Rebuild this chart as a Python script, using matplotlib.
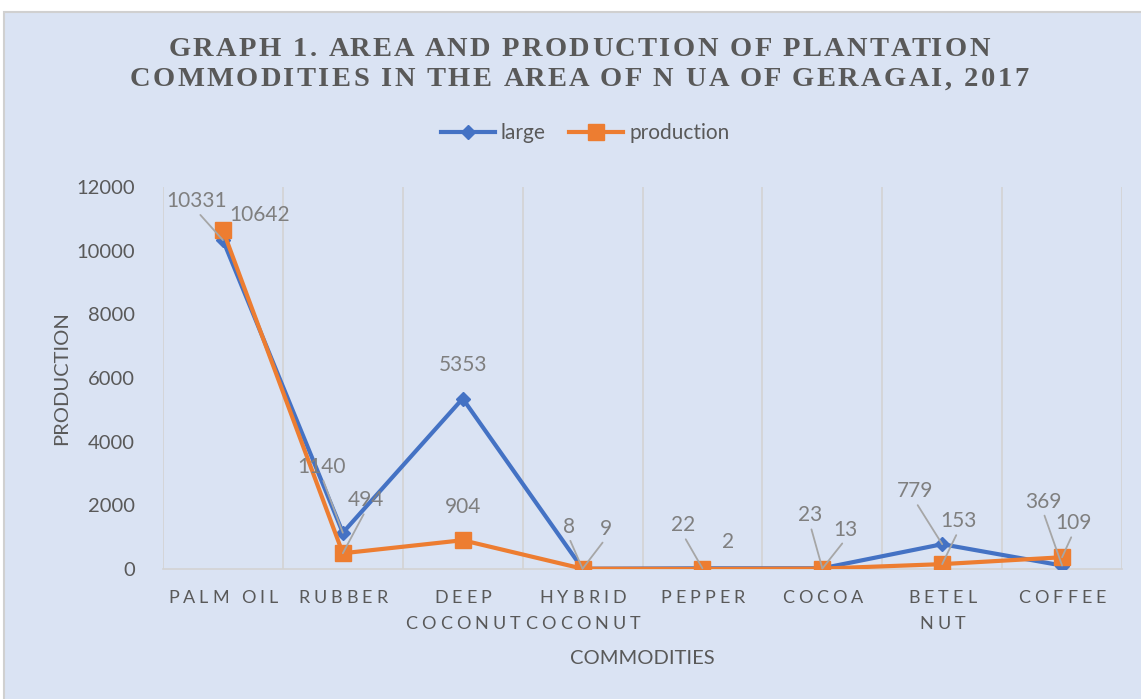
import matplotlib
matplotlib.use('Agg')
import matplotlib.pyplot as plt
from matplotlib.font_manager import FontProperties
from matplotlib.patches import Rectangle
from matplotlib.transforms import IdentityTransform

# data
commodities = ['PALM OIL', 'RUBBER', 'DEEP\nCOCONUT', 'HYBRID\nCOCONUT', 'PEPPER', 'COCOA', 'BETEL\nNUT', 'COFFEE']
large = [10331, 1140, 5353, 8, 22, 23, 779, 109]
production = [10642, 494, 904, 9, 2, 13, 153, 369]
large_labels = ['10331', '1140', '5353', '8', '22', '23', '779', '369']
production_labels = ['10642', '494', '904', '9', '2', '13', '153', '109']
yticks = [0, 2000, 4000, 6000, 8000, 10000, 12000]
title_lines = ['GRAPH 1. AREA AND PRODUCTION OF PLANTATION',
               'COMMODITIES IN THE AREA OF N UA OF GERAGAI, 2017']

# label placement (pixels) and whether a leader line is drawn
large_offsets = [(-26, 39), (-21, 66), (0, 34), (-14, 42), (-19, 43), (-12, 53), (-27, 53), (-19, 64)]
prod_offsets = [(37, 15), (23, 53), (0, 33), (23, 40), (26, 27), (23, 39), (16, 43), (11, 34)]
large_leader = [True, True, False, True, True, True, True, True]
prod_leader = [False, True, False, True, False, True, True, True]

BLUE = '#4472C4'
ORANGE = '#ED7D31'
BG = '#DAE3F3'
DARK = '#595959'
LABEL = '#7F7F7F'
GRID = '#D3D3D3'
W, H = 1141, 699

fig = plt.figure(figsize=(W / 100, H / 100), dpi=100)
fig.patch.set_facecolor('white')
fig.patches.append(Rectangle((4, -2), W, H - 10, transform=IdentityTransform(),
                             facecolor=BG, edgecolor='#D0D0D0', linewidth=1.5, zorder=-10))

ax = fig.add_axes([163 / W, 1 - 569 / H, (1122 - 163) / W, (569 - 187) / H])
ax.set_facecolor('none')

x = list(range(len(commodities)))
ax.plot(x, large, color=BLUE, lw=3, marker='D', ms=7.5, label='large', zorder=3)
ax.plot(x, production, color=ORANGE, lw=3, marker='s', ms=11, label='production', zorder=4)

ax.set_xlim(-0.5, len(commodities) - 0.5)
ax.set_ylim(0, 12000)
ax.set_yticks(yticks)
ax.set_xticks([])
for b in range(len(commodities) + 1):
    ax.axvline(b - 0.5, color=GRID, lw=1.2, zorder=1)
for s in ['top', 'right', 'left']:
    ax.spines[s].set_visible(False)
ax.spines['bottom'].set_color(GRID)
ax.spines['bottom'].set_linewidth(1.2)
ax.tick_params(axis='y', length=0, pad=20, labelsize=14.5, labelcolor=DARK)
for t in ax.get_yticklabels():
    t.set_fontfamily('Lato')

ax.set_ylabel('PRODUCTION', fontsize=14.5, color=DARK, family='Lato')
ax.yaxis.set_label_coords(70 / W, 1 - 378 / H, transform=fig.transFigure)

# data labels
for i in x:
    for vals, labs, offs, lead in [(large, large_labels, large_offsets, large_leader),
                                   (production, production_labels, prod_offsets, prod_leader)]:
        arrow = None
        if lead[i]:
            arrow = dict(arrowstyle='-', color='#A6A6A6', lw=1.3, shrinkA=1, shrinkB=0, relpos=(0.5, 0))
        ax.annotate(labs[i], xy=(i, vals[i]), xytext=offs[i], textcoords='offset pixels',
                    ha='center', va='center', fontsize=15, color=LABEL, family='Lato',
                    arrowprops=arrow, zorder=5)

leg = ax.legend(loc='center', bbox_to_anchor=(585 / W, 1 - 133 / H), bbox_transform=fig.transFigure,
                ncol=2, frameon=False, handlelength=2.6, columnspacing=1.1, handletextpad=0.3,
                prop=FontProperties(family='Lato', size=15), labelcolor=DARK)

renderer = fig.canvas.get_renderer()


def text_width(s, prop):
    w, h, d = renderer.get_text_width_height_descent(s, prop, ismath=False)
    return w


def spaced_text(cx, baseline, s, prop, spacing, color):
    # letter-spaced text, centred at cx, pixel coords from the top-left
    ref = text_width('l', prop)
    total = text_width(s, prop) + spacing * (len(s) - 1)
    x0 = cx - total / 2
    for i, ch in enumerate(s):
        if ch == ' ':
            continue
        off = text_width(s[:i] + 'l', prop) - ref if i else 0
        fig.text(x0 + off + i * spacing, H - baseline, ch, fontproperties=prop, color=color,
                 ha='left', va='baseline', transform=IdentityTransform())


title_prop = FontProperties(family='Liberation Serif', weight='bold', size=20.5)
spaced_text(579, 56, title_lines[0], title_prop, 2.4, DARK)
spaced_text(579, 86, title_lines[1], title_prop, 2.4, DARK)

tick_prop = FontProperties(family='Lato', size=13)
for i, name in enumerate(commodities):
    cx = ax.transData.transform((i, 0))[0]
    for j, line in enumerate(name.split('\n')):
        spaced_text(cx, 603 + j * 26, line, tick_prop, 4.0, DARK)

fig.text(642 / W, 1 - 659 / H, 'COMMODITIES', ha='center', va='center', fontsize=14.5,
         color=DARK, family='Lato')

fig.savefig('out.png', dpi=100, facecolor=fig.get_facecolor())
